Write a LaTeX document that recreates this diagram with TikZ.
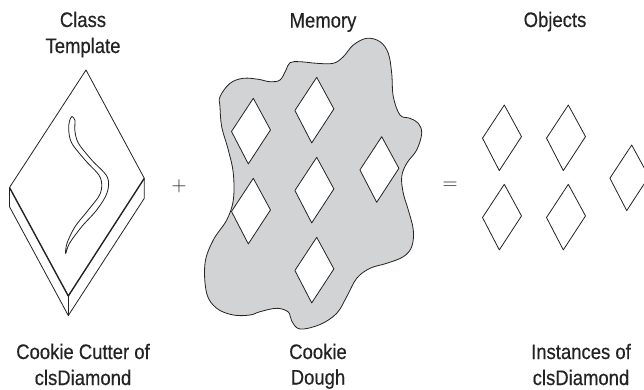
\documentclass[tikz,border=0pt]{standalone}
\usepackage{fontspec}
\setmainfont{Liberation Sans}[FakeStretch=0.88, FakeBold=0.4]
\definecolor{dough}{RGB}{210,211,213}
\definecolor{ink}{RGB}{35,35,35}
\tikzset{
  lbl/.style={anchor=base, inner sep=0pt, font=\fontsize{21}{26}\selectfont, text=ink},
  sym/.style={anchor=center, inner sep=0pt, font=\fontsize{20}{22}\selectfont, text=ink},
  thinln/.style={line width=0.8pt, line join=round, draw=ink},
  thickln/.style={line width=1.4pt, line join=round, draw=ink},
  gem/.pic={\draw[thinln, fill=white] (0,0) -- (17.2,31.6) -- (-5,65.6) -- (-21.8,33.2) -- cycle;}
}
\begin{document}
\begin{tikzpicture}[x=1pt,y=-1pt]
\clip (0,0) rectangle (644,389);
\fill[white] (0,0) rectangle (644,389);

% labels
\node[lbl] (class) at (83,27) {Class};
\node[lbl] (template) at (83,53) {Template};
\node[lbl] (memory) at (323,27.5) {Memory};
\node[lbl] (objects) at (555,27) {Objects};
\node[lbl] (cutter) at (83,359) {Cookie Cutter of};
\node[lbl] (cls1) at (83,385) {clsDiamond};
\node[lbl] (cookie) at (318,359) {Cookie};
\node[lbl] (dough) at (318,384.5) {Dough};
\node[lbl] (inst) at (581,359) {Instances of};
\node[lbl] (cls2) at (581,385) {clsDiamond};
\node[sym] (plus) at (179,186.7) {$+$};
\node[sym] (eq) at (450,186) {$=$};

% cookie cutter
\coordinate (T) at (86,70);
\coordinate (L) at (9.5,187.5);
\coordinate (R) at (144.3,178.3);
\coordinate (B) at (68.3,296);
\coordinate (Lb) at (9.5,206.7);
\coordinate (Rb) at (144.3,198.3);
\coordinate (Bb) at (68.3,315.5);
\draw[thinln] (L) -- (T) -- (R);
\draw[thinln] (L) -- (Lb) -- (Bb) -- (Rb) -- (R);
\draw[thinln] (B) -- (Bb);
\draw[thickln] (L) -- (B) -- (R);
\draw[thinln] plot[smooth cycle, tension=0.55] coordinates {
 (72,116.5) (69.5,121) (68.7,130) (71.7,143) (85,160) (100,177) (100.5,193)
 (88.3,210) (75,226.7) (67,243.3) (65.7,253.5) (69.5,243.3) (81.7,226.7)
 (96.7,210) (107,193) (107.3,177) (91.7,160) (78.3,143) (74.8,130) (75,120.5)};

% dough
\draw[thinln, fill=dough] plot[smooth cycle, tension=0.6] coordinates {
 (220,96.7) (230,83.3) (243.3,78.3) (258.3,79.3) (270,81.7) (280,80) (286,70)
 (290,62.7) (300,61.7) (316.7,63.3) (333.3,63.3) (343.3,56.7) (353.3,45)
 (366.7,38.3) (380,41.7) (388.3,53.3) (391.7,73.3) (393.3,96.7) (400,115)
 (410,118.3) (418.3,123.3) (421.7,133.3) (416.7,150) (406.7,163.3) (401.7,176.7)
 (403.3,193.3) (408.3,210) (413.3,230) (411.7,246.7) (403.3,256.7) (386.7,263.3)
 (370,268.3) (356.7,278.3) (346.7,296.7) (336.7,313.3) (320,324.5) (300,329)
 (291.7,321) (288.3,312) (276.7,308.3) (260,311.7) (250,315) (233.3,315)
 (216.7,308.3) (206.7,293.3) (205,263.3) (213.3,240) (226.7,220) (233.3,200)
 (233.3,173.3) (228.3,150) (221.7,126.7) (220,106.7)};
\pic at (253.3,98.3) {gem};
\pic at (316.7,77.3) {gem};
\pic at (253.3,178.3) {gem};
\pic at (316.7,157.3) {gem};
\pic at (381.7,136.7) {gem};
\pic at (316.7,237.3) {gem};

% objects
\pic at (504.3,105) {gem};
\pic at (568.3,105) {gem};
\pic at (504.3,184.3) {gem};
\pic at (568.3,184.3) {gem};
\pic at (631.7,145) {gem};
\end{tikzpicture}
\end{document}
